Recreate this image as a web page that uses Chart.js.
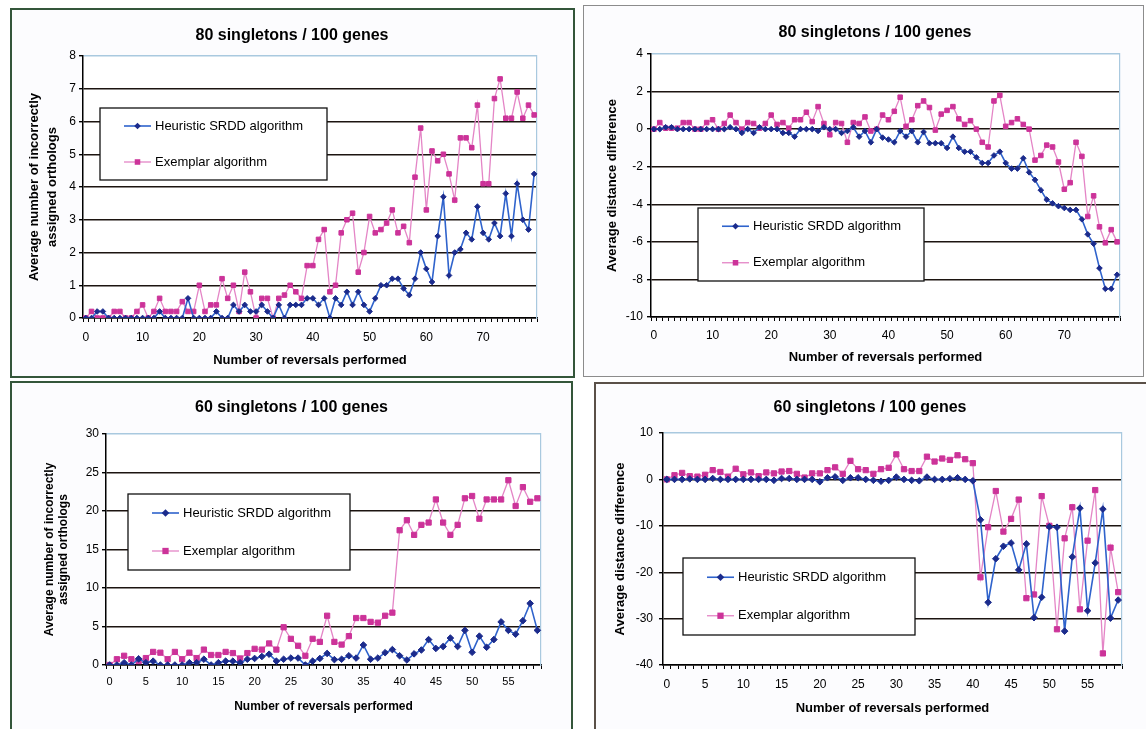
<!DOCTYPE html>
<html>
<head>
<meta charset="utf-8">
<script src="https://cdn.jsdelivr.net/npm/chart.js@4.4.0/dist/chart.umd.min.js"></script>
<style>
  body { margin: 0; width: 1146px; height: 729px; overflow: hidden; background: #ffffff; position: relative; }
  .frame { position: absolute; box-sizing: border-box; background: #fcfcfe; }
  canvas { position: absolute; }
</style>
</head>
<body>
<div class="frame" style="left:10px;top:8px;width:565px;height:370px;border:2px solid #34563a;"></div>
<div class="frame" style="left:583px;top:5px;width:561px;height:372px;border:1px solid #8c8c8c;"></div>
<div class="frame" style="left:10px;top:381px;width:563px;height:360px;border:2px solid #34563a;"></div>
<div class="frame" style="left:594px;top:382px;width:570px;height:360px;border:2px solid #5a5048;"></div>

<canvas id="chart1" width="564" height="370" style="left:10px;top:8px;"></canvas>
<canvas id="chart2" width="550" height="372" style="left:600px;top:5px;"></canvas>
<canvas id="chart3" width="563" height="348" style="left:10px;top:381px;"></canvas>
<canvas id="chart4" width="552" height="347" style="left:594px;top:382px;"></canvas>

<script>
// reversal counts (x categories)
let reversals80 = Array.from({length: 80}, (_, i) => i);
let reversals60 = Array.from({length: 60}, (_, i) => i);

// 80 singletons / 100 genes : incorrectly assigned orthologs
let heuristic80Wrong = [0,0,0.2,0.2,0,0,0,0,0,0, 0,0,0,0.2,0,0,0,0,0.6,0,
  0,0,0,0.2,0,0,0.4,0.2,0.4,0.2, 0.2,0.4,0.2,0,0.4,0,0.4,0.4,0.4,0.6,
  0.6,0.4,0.6,0,0.6,0.4,0.8,0.4,0.8,0.4, 0.2,0.6,1.0,1.0,1.2,1.2,0.9,0.7,1.2,2.0,
  1.5,1.1,2.5,3.7,1.3,2.0,2.1,2.6,2.4,3.4, 2.6,2.4,2.9,2.5,3.8,2.5,4.1,3.0,2.7,4.4];
let exemplar80Wrong = [0,0.2,0,0,0,0.2,0.2,0,0,0.2, 0.4,0,0.2,0.6,0.2,0.2,0.2,0.5,0.2,0.2,
  1.0,0.2,0.4,0.4,1.2,0.6,1.0,0.2,1.4,0.8, 0,0.6,0.6,0,0.6,0.7,1.0,0.8,0.6,1.6,
  1.6,2.4,2.7,0.8,1.0,2.6,3.0,3.2,1.4,2.0, 3.1,2.6,2.7,2.9,3.3,2.6,2.8,2.3,4.3,5.8,
  3.3,5.1,4.8,5.0,4.4,3.6,5.5,5.5,5.2,6.5, 4.1,4.1,6.7,7.3,6.1,6.1,6.9,6.1,6.5,6.2];

// 80 singletons / 100 genes : distance difference
let heuristic80Dist = [0,0,0.1,0.1,0,0,0,0,0,0, 0,0,0,0.1,0,-0.2,0,-0.2,0.1,0,
  0,0,-0.2,-0.2,-0.4,0,0,0,-0.1,0.1, 0,0,-0.2,-0.1,0.1,-0.4,-0.1,-0.7,0,-0.45,
  -0.55,-0.7,-0.1,-0.4,-0.1,-0.7,-0.15,-0.75,-0.75,-0.75, -1.0,-0.4,-1.0,-1.2,-1.2,-1.5,-1.8,-1.8,-1.4,-1.2,
  -1.8,-2.1,-2.1,-1.55,-2.3,-2.7,-3.25,-3.75,-3.95,-4.1, -4.2,-4.3,-4.3,-4.8,-5.6,-6.1,-7.4,-8.5,-8.5,-7.75];
let exemplar80Dist = [0,0.35,0.05,0.05,0.05,0.35,0.35,0,0,0.35, 0.5,0,0.3,0.75,0.35,0,0.35,0.3,0.05,0.3,
  0.75,0.25,0.35,0.05,0.5,0.5,0.9,0.4,1.2,0.3, -0.3,0.35,0.3,-0.7,0.35,0.3,0.65,-0.1,0,0.75,
  0.5,0.95,1.7,0.15,0.5,1.25,1.5,1.15,-0.05,0.8, 1.0,1.2,0.55,0.25,0.45,0,-0.7,-0.95,1.5,1.8,
  0.15,0.35,0.55,0.25,0,-1.65,-1.4,-0.85,-0.95,-1.75, -3.2,-2.85,-0.7,-1.45,-4.65,-3.55,-5.2,-6.05,-5.35,-6.0];

// 60 singletons / 100 genes : incorrectly assigned orthologs
let heuristic60Wrong = [0,0,0.3,0,0.8,0.3,0.5,0,0,0, 0,0.3,0.3,0.75,0,0.3,0.5,0.5,0.3,0.75,
  0.85,1.1,1.4,0.5,0.75,0.9,0.9,0,0.5,0.85, 1.5,0.7,0.75,1.2,0.9,2.6,0.75,0.9,1.6,2.0,
  1.2,0.65,1.45,1.95,3.3,2.15,2.4,3.5,2.4,4.5, 1.65,3.75,2.3,3.3,5.6,4.5,4.0,5.75,8.0,4.5];
let exemplar60Wrong = [0,0.75,1.2,0.75,0.5,0.9,1.7,1.6,0.75,1.7, 0.75,1.6,0.9,2.0,1.3,1.3,1.7,1.55,0.85,1.55,
  2.1,2.0,2.8,2.0,4.9,3.4,2.5,1.2,3.4,3.0, 6.4,3.0,2.65,3.75,6.1,6.1,5.6,5.5,6.4,6.8,
  17.5,18.8,16.9,18.2,18.5,21.5,18.5,16.9,18.2,21.65, 21.95,19.0,21.5,21.5,21.5,24.0,20.65,23.1,21.2,21.65];

// 60 singletons / 100 genes : distance difference
let heuristic60Dist = [0,0,0,0.1,0,0,0.2,0,0,0, 0,0,0,0,-0.2,0.2,0.2,0,0,0,
  -0.5,0.35,0.55,-0.2,0.35,0.35,0,-0.2,-0.4,-0.2, 0.5,0,-0.2,-0.3,0.5,0,0,0.15,0.35,0,
  -0.3,-8.7,-26.5,-17.1,-14.4,-13.7,-19.5,-13.9,-29.8,-25.4, -10.2,-10.3,-32.7,-16.7,-6.2,-28.3,-18.0,-6.4,-29.9,-26.0];
let exemplar60Dist = [0,0.9,1.4,0.7,0.6,1.0,2.0,1.6,0.6,2.3, 1.1,1.5,0.7,1.5,1.3,1.7,1.8,1.2,0.4,1.3,
  1.3,2.0,2.6,1.2,4.0,2.2,2.0,1.2,2.2,2.5, 5.4,2.2,1.8,1.8,4.9,3.85,4.5,4.2,5.2,4.35,
  3.5,-21.1,-10.3,-2.5,-11.25,-8.5,-4.35,-25.6,-24.8,-3.6, -10.0,-32.3,-12.7,-6.0,-28.0,-13.2,-2.3,-37.5,-14.7,-24.3];

let fontFamily = '"Liberation Sans", Arial, sans-serif';
Chart.defaults.font.family = fontFamily;
Chart.defaults.color = '#000';

let blueLine = '#2f63cc', bluePoint = '#1b2b8c';
let pinkLine = '#e485c6', pinkPoint = '#cc3399';
let edgeBlue = '#a9c9df';

// white plot area + boxed legend inside the plot, like the Excel original
let plotDecor = {
  id: 'plotDecor',
  beforeDraw(chart) {
    let a = chart.chartArea, c = chart.ctx;
    c.save();
    c.fillStyle = '#ffffff';
    c.fillRect(a.left, a.top, a.right - a.left, a.bottom - a.top);
    c.restore();
  },
  afterDraw(chart, args, opts) {
    let box = opts.box;
    if (!box) return;
    let c = chart.ctx;
    c.save();
    c.fillStyle = '#ffffff';
    c.fillRect(box.x, box.y, box.w, box.h);
    c.strokeStyle = '#111';
    c.lineWidth = 1.3;
    c.strokeRect(box.x, box.y, box.w, box.h);
    chart.data.datasets.forEach((ds, i) => {
      let y = box.y + box.h * (i === 0 ? 0.25 : 0.75);
      let x1 = box.x + 24, x2 = box.x + 51, xm = (x1 + x2) / 2;
      c.strokeStyle = ds.borderColor;
      c.lineWidth = ds.borderWidth;
      c.beginPath(); c.moveTo(x1, y); c.lineTo(x2, y); c.stroke();
      c.fillStyle = ds.pointBackgroundColor;
      let r = ds.pointRadius + 0.5;
      c.beginPath();
      if (ds.pointStyle === 'rectRot') {
        c.moveTo(xm, y - r); c.lineTo(xm + r, y); c.lineTo(xm, y + r); c.lineTo(xm - r, y);
      } else {
        let s = r * 0.75;
        c.rect(xm - s, y - s, 2 * s, 2 * s);
      }
      c.closePath(); c.fill();
      c.fillStyle = '#000';
      c.font = '13px ' + fontFamily;
      c.textBaseline = 'middle';
      c.fillText(ds.label, x2 + 4, y);
    });
    c.restore();
  }
};

function makePanel(id, labels, heur, exem, o) {
  let ctx = document.getElementById(id).getContext('2d');
  return new Chart(ctx, {
    type: 'line',
    data: {
      labels: labels,
      datasets: [{
        label: 'Heuristic SRDD algorithm',
        data: heur,
        borderColor: blueLine,
        borderWidth: 1.6,
        pointStyle: 'rectRot',
        pointRadius: o.pr,
        pointBackgroundColor: bluePoint,
        pointBorderColor: bluePoint,
        pointBorderWidth: 1,
        tension: 0
      }, {
        label: 'Exemplar algorithm',
        data: exem,
        borderColor: pinkLine,
        borderWidth: 1.3,
        pointStyle: 'rect',
        pointRadius: o.pr + 0.4,
        pointBackgroundColor: pinkPoint,
        pointBorderColor: pinkPoint,
        pointBorderWidth: 1,
        tension: 0
      }]
    },
    options: {
      responsive: false,
      animation: false,
      devicePixelRatio: 1,
      layout: { padding: 0 },
      plugins: {
        legend: { display: false },
        tooltip: { enabled: false },
        title: {
          display: true,
          text: o.title,
          color: '#000',
          font: { size: 16, weight: 'bold' },
          padding: { top: o.titleTop, bottom: o.titleBottom }
        },
        plotDecor: { box: o.legend }
      },
      scales: {
        x: {
          offset: true,
          grid: { offset: true, drawOnChartArea: false, drawTicks: true, tickLength: 4, color: '#000', lineWidth: 1 },
          border: { color: '#000', width: 1.5 },
          ticks: {
            autoSkip: false, maxRotation: 0, minRotation: 0,
            padding: o.xPad, color: '#000', font: { size: o.xFont },
            callback: function (v, i) { return i % o.every === 0 ? this.getLabelForValue(v) : ''; }
          },
          title: {
            display: true, text: 'Number of reversals performed', color: '#000',
            font: { size: o.xTitleSize, weight: 'bold' },
            padding: { top: 0, bottom: o.xTitleBottom }
          },
          afterFit: (s) => { s.height = o.xHeight; }
        },
        y: {
          min: o.min, max: o.max,
          ticks: { stepSize: o.step, padding: o.yPad, color: '#000', font: { size: 12 } },
          grid: {
            color: (c) => (c.tick && c.tick.value === o.max) ? edgeBlue : '#1c1410',
            tickColor: '#000', lineWidth: 1.4, tickLength: 4
          },
          border: { color: '#000', width: 1.5 },
          title: {
            display: true, text: o.yTitle, color: '#000',
            font: { size: o.yTitleSize, weight: 'bold', lineHeight: o.yTitleLh },
            padding: { top: o.yTitleTop, bottom: 0 }
          },
          afterFit: (s) => { s.width = o.yWidth; }
        },
        yR: {
          position: 'right',
          grid: { display: false },
          ticks: { display: false },
          border: { color: edgeBlue, width: 1.2 },
          afterFit: (s) => { s.width = o.rightWidth; }
        }
      }
    },
    plugins: [plotDecor]
  });
}

makePanel('chart1', reversals80, heuristic80Wrong, exemplar80Wrong, {
  title: '80 singletons / 100 genes', titleTop: 18.4, titleBottom: 10.4,
  min: 0, max: 8, step: 1, every: 10, pr: 2.8,
  yWidth: 73, rightWidth: 37, xHeight: 60, yPad: 3, xPad: 8, xFont: 12,
  yTitle: ['Average number of incorrectly', 'assigned orthologs'], yTitleSize: 13, yTitleLh: 1.385, yTitleTop: 15,
  xTitleSize: 13, xTitleBottom: 10.2,
  legend: { x: 90, y: 100, w: 227, h: 72 }
});

makePanel('chart2', reversals80, heuristic80Dist, exemplar80Dist, {
  title: '80 singletons / 100 genes', titleTop: 18.4, titleBottom: 11.4,
  min: -10, max: 4, step: 2, every: 10, pr: 2.8,
  yWidth: 51, rightWidth: 30, xHeight: 60, yPad: 4, xPad: 7, xFont: 12,
  yTitle: 'Average distance difference', yTitleSize: 13, yTitleLh: 1.2, yTitleTop: 4.2,
  xTitleSize: 13, xTitleBottom: 12.2,
  legend: { x: 98, y: 203, w: 226, h: 73 }
});

makePanel('chart3', reversals60, heuristic60Wrong, exemplar60Wrong, {
  title: '60 singletons / 100 genes', titleTop: 17.4, titleBottom: 16.4,
  min: 0, max: 30, step: 5, every: 5, pr: 3.3,
  yWidth: 96, rightWidth: 32, xHeight: 64, yPad: 3, xPad: 6, xFont: 11,
  yTitle: ['Average number of incorrectly', 'assigned orthologs'], yTitleSize: 12, yTitleLh: 1.1, yTitleTop: 33.4,
  xTitleSize: 12, xTitleBottom: 14.8,
  legend: { x: 118, y: 113, w: 222, h: 76 }
});

makePanel('chart4', reversals60, heuristic60Dist, exemplar60Dist, {
  title: '60 singletons / 100 genes', titleTop: 16.4, titleBottom: 15.4,
  min: -40, max: 10, step: 10, every: 5, pr: 3.3,
  yWidth: 69, rightWidth: 24, xHeight: 64, yPad: 6, xPad: 8, xFont: 12,
  yTitle: 'Average distance difference', yTitleSize: 13, yTitleLh: 1.2, yTitleTop: 18.2,
  xTitleSize: 13, xTitleBottom: 13.2,
  legend: { x: 89, y: 176, w: 232, h: 77 }
});
</script>
</body>
</html>
